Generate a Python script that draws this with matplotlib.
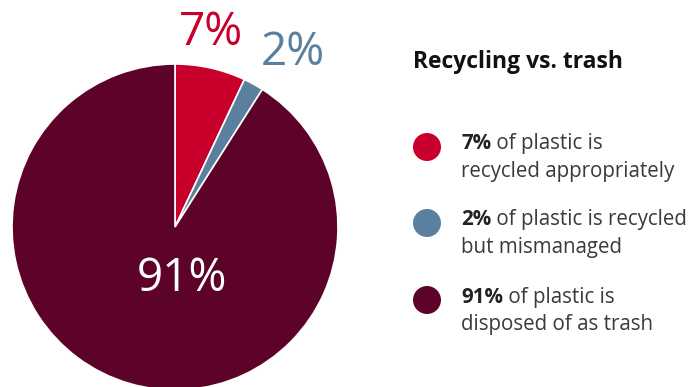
import matplotlib
matplotlib.use("Agg")
import matplotlib.pyplot as plt

# Data
labels = ["7%", "2%", "91%"]
values = [7, 2, 91]
colors = ["#C9002B", "#5B809F", "#5D0329"]
legend_bold = ["7%", "2%", "91%"]
legend_rest_1 = [" of plastic is", " of plastic is recycled", " of plastic is"]
legend_rest_2 = ["recycled appropriately", "but mismanaged", "disposed of as trash"]
title = "Recycling vs. trash"

plt.rcParams['font.family'] = ['Open Sans', 'DejaVu Sans']

W, H = 693, 387
fig = plt.figure(figsize=(W / 100, H / 100), dpi=100)
ax = fig.add_axes([0, 0, 1, 1])

def Y(y):
    return H - y

cx, cy, r = 175, 227, 163
ax.pie(values, colors=colors, startangle=90, counterclock=False,
       center=(cx, Y(cy)), radius=r,
       wedgeprops=dict(edgecolor="white", linewidth=1.2))
ax.set_xlim(0, W)
ax.set_ylim(0, H)
ax.set_aspect("equal")
ax.axis("off")

# Pie labels
label_pos = [(211, 33), (293, 53), (182, 279)]
label_colors = [colors[0], colors[1], "white"]
for lab, (x, y), c in zip(labels, label_pos, label_colors):
    ax.text(x, Y(y), lab, color=c, fontsize=33, ha="center", va="center")

# Title
ax.text(413, Y(68), title, fontsize=16.5, fontweight="bold", color="#111111",
        ha="left", va="baseline")

# Legend
circle_y = [147, 223, 300]
line1_base = [149, 225, 303]
line2_base = [177, 253, 330]
txtc = "#3a3a3a"
for i in range(3):
    ax.scatter([427], [Y(circle_y[i])], s=(28 * 0.72) ** 2, color=colors[i],
               edgecolors="none", zorder=3)
    tb = ax.text(461, Y(line1_base[i]), legend_bold[i], fontsize=14.8,
                 fontweight="bold", color="#222222", ha="left", va="baseline")
    ax.annotate(legend_rest_1[i], xy=(1, 0), xycoords=tb, va="bottom",
                ha="left", fontsize=14.8, color=txtc)
    ax.text(461, Y(line2_base[i]), legend_rest_2[i], fontsize=14.8, color=txtc,
            ha="left", va="baseline")

fig.savefig("out.png", dpi=100)
